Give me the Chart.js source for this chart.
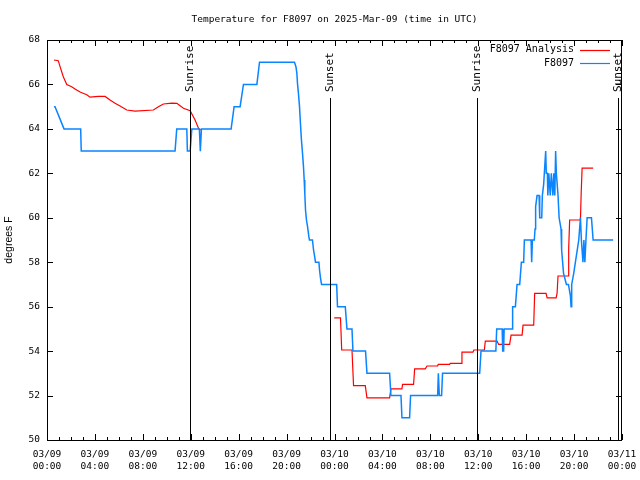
<!DOCTYPE html>
<html>
<head>
<meta charset="utf-8">
<script src="https://cdn.jsdelivr.net/npm/chart.js@4/dist/chart.umd.min.js"></script>
<style>
  html, body { margin: 0; padding: 0; background: #fff; }
  #wrap { width: 640px; height: 480px; }
</style>
</head>
<body>
<div id="wrap"><canvas id="tempChart"></canvas></div>
<script>
// hours since 2025-03-09 00:00 UTC
const analysisHours = [0.58, 0.94, 1.09, 1.36, 1.65, 2.06, 2.34, 2.76, 3.32, 3.59, 4.29, 4.85, 5.26, 5.68, 6.1, 6.66, 7.35, 8.88, 9.3, 9.72, 10.42, 10.84, 11.39, 11.95, 12.36, 12.67, 12.84,
    18,
    23.98, 24.5, 24.6, 25.46, 25.59, 26.57, 26.71, 28.6, 28.71, 29.63, 29.68, 30.6, 30.69, 31.58, 31.72, 32.61, 32.66, 33.61, 33.66, 34.56, 34.64, 35.56, 35.63, 36.51, 36.59, 37.57, 37.7, 38.62, 38.74, 39.66, 39.74, 40.63, 40.71, 41.66, 41.75, 42.5, 42.58, 42.66, 43.5, 43.55, 43.63, 44.53, 44.59, 44.67, 45.59];
const analysisTemps = [67.1, 67.07, 66.8, 66.35, 66.0, 65.9, 65.8, 65.66, 65.54, 65.43, 65.46, 65.46, 65.3, 65.15, 65.03, 64.85, 64.8, 64.85, 65.0, 65.12, 65.16, 65.15, 64.93, 64.82, 64.4, 64.0, 63.95,
    null,
    55.5, 55.5, 54.05, 54.05, 52.45, 52.45, 51.9, 51.9, 52.3, 52.3, 52.5, 52.5, 53.2, 53.2, 53.33, 53.33, 53.4, 53.4, 53.45, 53.45, 53.95, 53.95, 54.05, 54.05, 54.45, 54.45, 54.3, 54.3, 54.72, 54.72, 55.17, 55.17, 56.6, 56.6, 56.4, 56.4, 56.6, 57.38, 57.38, 58.63, 59.9, 59.9, 61.07, 62.23, 62.23];

const stationHours = [0.58, 0.67, 1.42, 2.81, 2.86, 10.69, 10.83, 11.67, 11.72, 11.95, 12.09, 12.72, 12.8, 12.89, 15.37, 15.62, 16.12, 16.4, 17.52, 17.74, 20.66,
    20.78, 20.86, 20.91, 20.99, 21.08, 21.14, 21.24, 21.33, 21.41, 21.47, 21.52, 21.58, 21.66, 21.75, 21.86, 21.91, 22.16, 22.25, 22.36, 22.41, 22.7, 22.75, 22.83, 22.92,
    24.18, 24.25, 24.9, 25.04, 25.46, 25.54, 26.59, 26.71, 28.6, 28.71, 29.55, 29.63, 30.27, 30.35, 32.61, 32.67, 32.75, 32.94, 33.02, 36.12, 36.23, 37.47, 37.54,
    38.0, 38.04, 38.12, 38.16, 38.82, 38.87, 39.1, 39.24, 39.46, 39.6, 39.79, 39.85, 40.41, 40.46, 40.52, 40.68, 40.74, 40.79, 40.91, 41.08, 41.13, 41.3, 41.35, 41.46,
    41.63, 41.68, 41.77, 41.81, 41.89, 42.01, 42.1, 42.23, 42.31, 42.39, 42.46, 42.52, 42.66, 42.75, 42.91, 42.96, 43.12, 43.36, 43.53, 43.69, 43.75, 43.8, 43.97,
    44.11, 44.25, 44.39, 44.53, 44.61, 44.74, 44.82, 44.9, 44.99, 45.09, 45.45, 45.59, 47.26];
const stationTemps = [65, 65, 64, 64, 63, 63, 64, 64, 63, 63, 64, 64, 63, 64, 64, 65, 65, 66, 66, 67, 67,
    66.8, 66.5, 66.05, 65.6, 65.0, 64.4, 63.5, 62.9, 62.3, 61.7, 61.1, 60.35, 59.9, 59.6, 59.15, 59, 59, 58.55, 58.2, 58, 58, 57.65, 57.3, 57,
    57, 56, 56, 55, 55, 54, 54, 53, 53, 52, 52, 51, 51, 52, 52, 53, 52, 52, 53, 53, 54, 54, 55,
    55, 54, 54, 55, 55, 56, 56, 57, 57, 58, 58, 59, 59, 58, 59, 59, 59.5, 60.5, 61, 61, 60, 60, 61, 61.5,
    63, 62, 62, 61, 62, 61, 62, 61, 62, 61, 63, 62, 61, 60, 59.5, 58.55, 57.5, 57, 57, 56.5, 56, 57, 57.5,
    58, 58.5, 59, 60, 59, 58, 59, 58, 59, 60, 60, 59, 59];

const eventHours = [11.97, 23.65, 35.93, 47.67];
const eventNames = ['Sunrise', 'Sunset', 'Sunrise', 'Sunset'];

const monoFont = '"DejaVu Sans Mono", "Liberation Mono", monospace';

function pad2(n) {
    return (n < 10 ? '0' : '') + n;
}

function toPoints(hours, temps) {
    return hours.map((h, i) => ({ x: h, y: temps[i] }));
}

const gnuplotDecor = {
    id: 'gnuplotDecor',
    afterDatasetsDraw(chart) {
        const ctx = chart.ctx;
        const area = chart.chartArea;
        const xs = chart.scales.x;
        const ys = chart.scales.y;
        ctx.save();
        ctx.strokeStyle = '#000';
        ctx.lineWidth = 1;

        // frame
        ctx.strokeRect(Math.round(area.left) + 0.5, Math.round(area.top) + 0.5,
            Math.round(area.right - area.left) - 1, Math.round(area.bottom - area.top));

        // ticks, pointing inwards, mirrored
        ctx.beginPath();
        for (let h = 0; h <= 48; h++) {
            const px = Math.round(xs.getPixelForValue(h)) + 0.5;
            const len = h % 4 === 0 ? 6 : 3;
            ctx.moveTo(px, area.bottom);
            ctx.lineTo(px, area.bottom - len);
            ctx.moveTo(px, area.top);
            ctx.lineTo(px, area.top + len);
        }
        for (let t = 50; t <= 68; t += 2) {
            const py = Math.round(ys.getPixelForValue(t)) + 0.5;
            ctx.moveTo(area.left, py);
            ctx.lineTo(area.left + 6, py);
            ctx.moveTo(area.right, py);
            ctx.lineTo(area.right - 6, py);
        }
        ctx.stroke();

        // sunrise / sunset markers
        ctx.font = '11px ' + monoFont;
        ctx.fillStyle = '#000';
        eventHours.forEach((h, i) => {
            const px = Math.round(xs.getPixelForValue(h)) + 0.5;
            ctx.beginPath();
            ctx.moveTo(px, area.top + 58);
            ctx.lineTo(px, area.bottom);
            ctx.stroke();
            ctx.save();
            ctx.translate(px, area.top + 52);
            ctx.rotate(-Math.PI / 2);
            ctx.textAlign = 'left';
            ctx.textBaseline = 'middle';
            ctx.fillText(eventNames[i], 0, 0);
            ctx.restore();
        });

        // legend, gnuplot style (text then line sample)
        ctx.font = '10px ' + monoFont;
        ctx.textAlign = 'right';
        ctx.textBaseline = 'middle';
        chart.data.datasets.forEach((ds, i) => {
            const y = area.top + 9.5 + i * 13.5;
            ctx.fillStyle = '#000';
            ctx.fillText(ds.label, area.right - 48, y);
            ctx.strokeStyle = ds.borderColor;
            ctx.lineWidth = 1.2;
            ctx.beginPath();
            ctx.moveTo(area.right - 42, Math.round(y) + 0.5);
            ctx.lineTo(area.right - 12, Math.round(y) + 0.5);
            ctx.stroke();
        });
        ctx.restore();
    }
};

const ctx = document.getElementById('tempChart');
new Chart(ctx, {
    type: 'line',
    data: {
        datasets: [
            {
                label: 'F8097 Analysis',
                data: toPoints(analysisHours, analysisTemps),
                borderColor: '#ff0000',
                borderWidth: 1.2,
                pointRadius: 0,
                spanGaps: false,
                tension: 0,
                order: 1
            },
            {
                label: 'F8097',
                data: toPoints(stationHours, stationTemps),
                borderColor: '#0a84ff',
                borderWidth: 1.5,
                pointRadius: 0,
                tension: 0,
                order: 0
            }
        ]
    },
    options: {
        responsive: true,
        maintainAspectRatio: false,
        animation: false,
        events: [],
        layout: {
            padding: { left: 0, right: 18, top: 0, bottom: 0 }
        },
        plugins: {
            legend: { display: false },
            tooltip: { enabled: false },
            title: {
                display: true,
                fullSize: false,
                text: 'Temperature for F8097 on 2025-Mar-09 (time in UTC)',
                color: '#000',
                font: { family: monoFont, size: 9.5, weight: 'normal', lineHeight: 1.2 },
                padding: { top: 14, bottom: 14.6 }
            }
        },
        scales: {
            x: {
                type: 'linear',
                min: 0,
                max: 48,
                grid: { display: false, drawTicks: false },
                border: { display: false },
                afterFit: function (scale) {
                    scale.height = 40;
                    scale.paddingLeft = 0;
                    scale.paddingRight = 0;
                },
                ticks: {
                    stepSize: 4,
                    autoSkip: false,
                    maxRotation: 0,
                    padding: 8,
                    color: '#000',
                    font: { family: monoFont, size: 9.5, lineHeight: 1.3 },
                    callback: function (value) {
                        const day = 9 + Math.floor(value / 24);
                        const hour = value % 24;
                        return ['03/' + pad2(day), pad2(hour) + ':00'];
                    }
                }
            },
            y: {
                min: 50,
                max: 68,
                grid: { display: false, drawTicks: false },
                border: { display: false },
                afterFit: function (scale) {
                    scale.width = 47;
                    scale.paddingTop = 0;
                    scale.paddingBottom = 0;
                },
                title: {
                    display: true,
                    text: 'degrees F',
                    color: '#000',
                    font: { family: '"Liberation Sans", Arial, sans-serif', size: 10.5 },
                    padding: { top: 3, bottom: 0 }
                },
                ticks: {
                    stepSize: 2,
                    padding: 7,
                    color: '#000',
                    font: { family: monoFont, size: 9.5 }
                }
            }
        }
    },
    plugins: [gnuplotDecor]
});
</script>
</body>
</html>
